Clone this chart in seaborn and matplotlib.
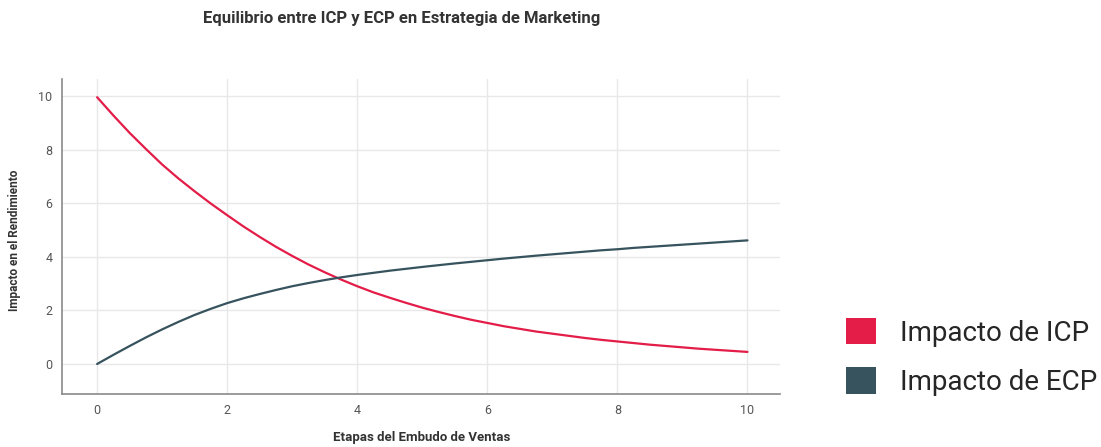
import numpy as np
import pandas as pd
import seaborn as sns
import matplotlib
matplotlib.use("Agg")
import matplotlib.pyplot as plt
from matplotlib.patches import Patch

# ---- data ----
etapas = [0, 0.25, 0.5, 0.75, 1, 1.25, 1.5, 1.75, 2, 2.25, 2.5, 2.75, 3, 3.25, 3.5, 3.75,
          4, 4.25, 4.5, 4.75, 5, 5.25, 5.5, 5.75, 6, 6.25, 6.5, 6.75, 7, 7.25, 7.5, 7.75,
          8, 8.25, 8.5, 8.75, 9, 9.25, 9.5, 9.75, 10]
impacto_icp = [9.95, 9.27, 8.62, 8.02, 7.44, 6.92, 6.44, 5.98, 5.55, 5.13, 4.74, 4.37, 4.03,
               3.71, 3.42, 3.15, 2.9, 2.67, 2.47, 2.28, 2.1, 1.94, 1.79, 1.65, 1.53, 1.41,
               1.31, 1.21, 1.13, 1.05, 0.97, 0.9, 0.84, 0.78, 0.72, 0.67, 0.62, 0.57, 0.53,
               0.49, 0.45]
impacto_ecp = [0.0, 0.34, 0.67, 0.99, 1.29, 1.57, 1.83, 2.06, 2.27, 2.45, 2.61, 2.76, 2.9,
               3.02, 3.13, 3.23, 3.32, 3.4, 3.48, 3.55, 3.62, 3.685, 3.75, 3.81, 3.87, 3.93,
               3.985, 4.04, 4.09, 4.14, 4.19, 4.24, 4.28, 4.33, 4.37, 4.41, 4.45, 4.49, 4.53,
               4.57, 4.61]
series_names = ["Impacto de ICP", "Impacto de ECP"]
colors = ["#e31c48", "#37535e"]
x_ticks = [0, 2, 4, 6, 8, 10]
y_ticks = [0, 2, 4, 6, 8, 10]

df = pd.DataFrame({
    "x": etapas * 2,
    "y": impacto_icp + impacto_ecp,
    "serie": [series_names[0]] * len(etapas) + [series_names[1]] * len(etapas),
})

sns.set_theme(style="white")
plt.rcParams["font.family"] = ["Roboto", "DejaVu Sans"]

fig = plt.figure(figsize=(11.01, 4.47), dpi=100)
ax = fig.add_axes([62 / 1101, 1 - 394 / 447, (780 - 62) / 1101, (394 - 79) / 447])

sns.lineplot(data=df, x="x", y="y", hue="serie", palette=colors, hue_order=series_names,
             linewidth=1.6, ax=ax, legend=False)

ax.set_xlim(-0.54, 10.5)
ax.set_ylim(-1.12, 10.63)
ax.set_xticks(x_ticks)
ax.set_yticks(y_ticks)
ax.grid(True, color="#e8e8e8", linewidth=1.0)
ax.set_axisbelow(True)
for s in ["top", "right"]:
    ax.spines[s].set_visible(False)
for s in ["left", "bottom"]:
    ax.spines[s].set_color("#8a8a8a")
    ax.spines[s].set_linewidth(1.2)
ax.tick_params(axis="both", length=0, labelsize=9, labelcolor="#555555", pad=7)

ax.set_xlabel("")
ax.set_ylabel("")
fig.text(422 / 1101, 1 - 438 / 447, "Etapas del Embudo de Ventas", ha="center", va="center",
         fontsize=9.5, fontweight="bold", color="#333333")
fig.text(15 / 1101, 1 - 240 / 447, "Impacto en el Rendimiento", ha="center", va="center",
         rotation=90, fontsize=8.5, fontweight="bold", color="#333333")
fig.text(402 / 1101, 1 - 19 / 447, "Equilibrio entre ICP y ECP en Estrategia de Marketing",
         ha="center", va="center", fontsize=12, fontweight="bold", color="#333333")

handles = [Patch(facecolor=c, edgecolor="none") for c in colors]
fig.legend(handles, series_names, loc="center left", bbox_to_anchor=(846 / 1101, 1 - 357 / 447),
           frameon=False, fontsize=20, handlelength=1.08, handleheight=1.08, handletextpad=0.86,
           labelspacing=0.75, borderpad=0, borderaxespad=0)

fig.savefig("out.png", dpi=100)
